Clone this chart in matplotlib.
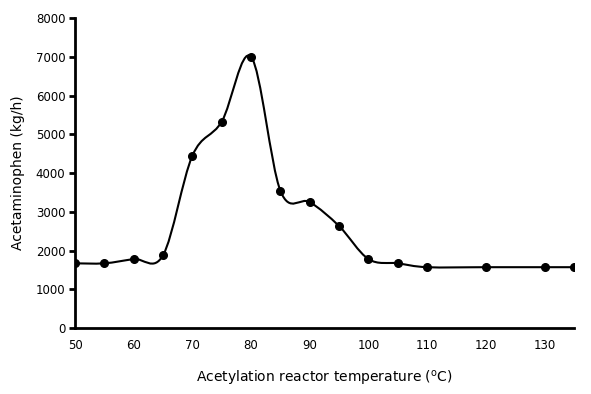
import matplotlib.pyplot as plt
from matplotlib.path import Path
from matplotlib.patches import PathPatch
import numpy as np

temp = [50, 55, 60, 65, 70, 75, 80, 85, 90, 95, 100, 105, 110, 120, 130, 135]
acet = [1670, 1670, 1780, 1880, 4450, 5330, 7000, 3540, 3250, 2630, 1780, 1670, 1570, 1570, 1570, 1570]

x_ticks = [50, 60, 70, 80, 90, 100, 110, 120, 130]
y_ticks = [0, 1000, 2000, 3000, 4000, 5000, 6000, 7000, 8000]


def smooth_path(xs, ys):
    # Excel-style smoothed line: Catmull-Rom as cubic Bezier segments
    p = np.column_stack([xs, ys]).astype(float)
    n = len(p)
    verts = [p[0]]
    codes = [Path.MOVETO]
    for i in range(n - 1):
        p0 = p[i - 1] if i > 0 else p[i]
        p1 = p[i]
        p2 = p[i + 1]
        p3 = p[i + 2] if i + 2 < n else p[i + 1]
        c1 = p1 + (p2 - p0) / 6.0
        c2 = p2 - (p3 - p1) / 6.0
        verts += [c1, c2, p2]
        codes += [Path.CURVE4] * 3
    return Path(verts, codes)


fig = plt.figure(figsize=(5.91, 3.94), dpi=100)
ax = fig.add_axes([0.127, 0.1675, 0.844, 0.7865])

ax.add_patch(PathPatch(smooth_path(temp, acet), facecolor='none',
                       edgecolor='black', lw=1.5))
ax.plot(temp, acet, 'o', color='black', ms=5.5)

ax.set_xlim(50, 135)
ax.set_ylim(0, 8000)
ax.set_xticks(x_ticks)
ax.set_yticks(y_ticks)

for s in ['top', 'right']:
    ax.spines[s].set_visible(False)
for s in ['left', 'bottom']:
    ax.spines[s].set_linewidth(2)

ax.tick_params(axis='y', direction='out', length=4, width=2, labelsize=8.5, pad=3)
ax.tick_params(axis='x', length=0, labelsize=8.5, pad=8)

ax.set_xlabel(r'Acetylation reactor temperature ($^{\mathrm{o}}$C)', fontsize=10, labelpad=12)
ax.set_ylabel('Acetaminophen (kg/h)', fontsize=10, labelpad=8)

fig.savefig('out.png', dpi=100)
